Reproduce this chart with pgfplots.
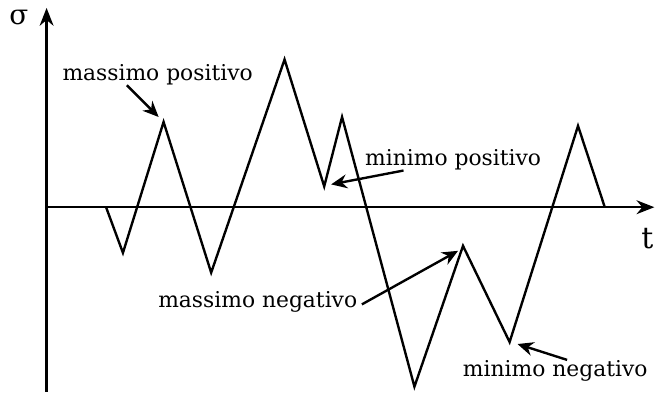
\documentclass[border=0pt]{standalone}
\usepackage{fontspec}
\setmainfont{DejaVu Serif}
\usepackage{pgfplots}
\pgfplotsset{compat=1.18}
\usetikzlibrary{arrows.meta}
\begin{document}
\begin{tikzpicture}
\begin{axis}[
  x=0.5pt, y=0.5pt,
  xmin=0, xmax=613, ymin=-186, ymax=201,
  axis lines=middle,
  axis line style={line width=1.2pt, -{Stealth[length=9pt,width=7pt]}},
  ticks=none,
  clip=false,
  font=\fontsize{11}{13}\selectfont,
]
% stress history
\addplot[black, line width=1.2pt] coordinates {
  (60,0) (77,-46) (118,86) (166,-66) (240,149) (280,21) (298,91)
  (371,-181) (420,-39) (467,-136) (536,82) (563,0)
};
% picture frame
\path (axis cs:-47,209) rectangle (axis cs:613,-193);
% axis names
\node at (axis cs:-28,191) {\fontsize{14}{16}\selectfont σ};
\node at (axis cs:606,-32) {\fontsize{15}{17}\selectfont t};
% annotations
\node at (axis cs:112,134) {massimo positivo};
\draw[line width=1.2pt, -{Stealth[length=8pt,width=7pt]}] (axis cs:81,123) -- (axis cs:113,91);
\node at (axis cs:410,48) {minimo positivo};
\draw[line width=1.2pt, -{Stealth[length=8pt,width=7pt]}] (axis cs:360,37) -- (axis cs:287,23);
\node at (axis cs:213,-96) {massimo negativo};
\draw[line width=1.2pt, -{Stealth[length=8pt,width=7pt]}] (axis cs:318,-98) -- (axis cs:415,-44);
\node at (axis cs:513,-165) {minimo negativo};
\draw[line width=1.2pt, -{Stealth[length=8pt,width=7pt]}] (axis cs:525,-154) -- (axis cs:475,-138);
\end{axis}
\end{tikzpicture}
\end{document}
